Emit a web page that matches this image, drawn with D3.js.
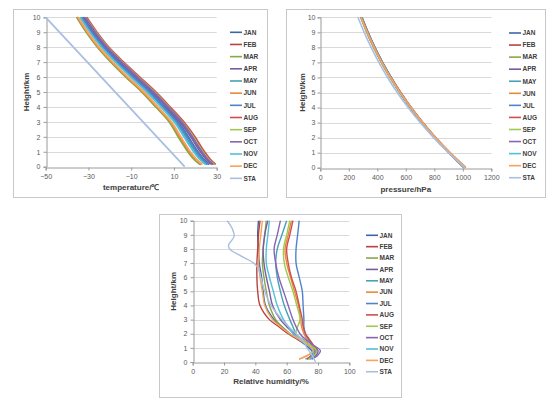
<!DOCTYPE html>
<html lang="en">
<head>
<meta charset="UTF-8">
<title>Monthly profiles</title>
<script src="https://d3js.org/d3.v7.min.js"></script>
<style>
  body { margin: 0; background: #fff; }
  svg { display: block; font-family: "Liberation Sans", Arial, sans-serif; }
</style>
</head>
<body>
<svg id="chart" width="554" height="399"></svg>
<script>
// ---- data ----
var months = ["JAN","FEB","MAR","APR","MAY","JUN","JUL","AUG","SEP","OCT","NOV","DEC","STA"];
var colors = ["#3a67a8","#b8433f","#86aa48","#7a5c9e","#45a0b8","#e8893b","#4f84c9","#d04e4b","#9dcb52","#8565b4","#52c0dc","#f9a25e","#a9bfe2"];

// temperature (°C) vs height (km)
var tempHeights = [0.15, 0.5, 1, 1.5, 2, 3, 4, 5, 6, 7, 8, 9, 10];
var tempJAN = [26.6, 23.9, 21.2, 18.9, 16.7, 11.9, 5.5, -1.1, -8.6, -15.9, -22.6, -28.0, -32.7];
var tempFEB = [22.6, 19.7, 16.9, 14.6, 12.4, 8.1, 1.8, -4.7, -12.2, -19.2, -25.5, -30.8, -35.3];
var tempMAR = [22.2, 19.3, 16.5, 14.2, 12.0, 7.8, 1.5, -5.0, -12.5, -19.5, -25.8, -31.0, -35.5];
var tempAPR = [27.7, 25.1, 22.4, 20.1, 17.9, 12.9, 6.5, -0.1, -7.6, -15.0, -21.8, -27.3, -32.0];
var tempMAY = [25.5, 22.8, 20.0, 17.7, 15.5, 10.9, 4.5, -2.1, -9.6, -16.8, -23.4, -28.8, -33.4];
var tempJUN = [22.9, 20.1, 17.3, 15.0, 12.8, 8.5, 2.2, -4.4, -11.9, -18.9, -25.3, -30.5, -35.0];
var tempJUL = [26.2, 23.5, 20.8, 18.5, 16.3, 11.5, 5.2, -1.4, -8.9, -16.2, -22.9, -28.3, -32.9];
var tempAUG = [29.5, 27.0, 24.3, 22.0, 19.8, 14.6, 8.2, 1.5, -6.0, -13.5, -20.5, -26.0, -30.8];
var tempSEP = [28.8, 26.2, 23.5, 21.2, 19.0, 13.9, 7.5, 0.9, -6.7, -14.1, -21.0, -26.5, -31.3];
var tempOCT = [28.4, 25.8, 23.1, 20.8, 18.6, 13.6, 7.2, 0.5, -7.0, -14.4, -21.3, -26.8, -31.5];
var tempNOV = [24.8, 22.0, 19.2, 16.9, 14.7, 10.2, 3.9, -2.7, -10.2, -17.4, -23.9, -29.3, -33.9];
var tempDEC = [23.3, 20.5, 17.7, 15.4, 13.2, 8.8, 2.5, -4.0, -11.5, -18.6, -25.0, -30.3, -34.8];
var tempStaHeights = [0, 10];
var tempSTA = [15, -50];

// pressure (hPa) vs height (km)
var presHeights = [0, 1, 2, 3, 4, 5, 6, 7, 8, 9, 10];
var presJAN = [1012, 903, 804, 715, 634, 561, 494, 434, 380, 332, 289];
var presFEB = [1016, 905, 805, 714, 632, 558, 491, 430, 376, 328, 285];
var presMAR = [1018, 906, 805, 714, 631, 557, 489, 428, 374, 326, 283];
var presAPR = [1014, 905, 806, 716, 635, 561, 494, 434, 380, 332, 289];
var presMAY = [1010, 902, 804, 715, 634, 561, 495, 435, 381, 333, 291];
var presJUN = [1022, 911, 811, 721, 639, 565, 498, 437, 383, 335, 292];
var presJUL = [1008, 901, 803, 715, 635, 562, 496, 436, 383, 335, 292];
var presAUG = [1009, 901, 803, 715, 635, 562, 496, 436, 382, 334, 291];
var presSEP = [1011, 903, 805, 716, 635, 562, 495, 435, 381, 333, 290];
var presOCT = [1015, 906, 807, 717, 636, 562, 495, 434, 380, 332, 288];
var presNOV = [1017, 906, 806, 716, 634, 559, 492, 432, 378, 329, 286];
var presDEC = [1020, 909, 808, 717, 635, 560, 492, 431, 377, 329, 285];
var presSTA = [1013, 899, 795, 701, 616, 540, 472, 411, 357, 308, 264];

// relative humidity (%) vs height (km)
var rhHeights = [0.2, 0.5, 0.8, 1.2, 1.6, 2, 2.5, 3, 4, 5, 6, 7, 8, 9, 10];
var rhJAN = [76, 77, 76, 72, 67, 62, 57, 52, 46.5, 45, 44, 42.5, 42, 41.5, 42];
var rhFEB = [73, 76, 77, 73, 67, 61, 55, 49, 43, 41.5, 41, 41, 41.5, 42, 43];
var rhMAR = [74, 77, 78, 73, 68, 62, 57, 53, 49, 47, 45.5, 44.5, 45, 46, 47];
var rhAPR = [75, 79, 80, 75, 70, 65, 60, 56, 51, 49, 47, 45.5, 45, 46, 48];
var rhMAY = [72, 77, 79, 75, 70, 66, 64, 62, 58.5, 56, 54, 53, 54, 57, 60];
var rhJUN = [68, 74, 78, 76, 73, 71, 69.5, 69, 67.5, 65, 62.5, 60, 59, 61, 63];
var rhJUL = [74, 76, 78, 76, 74, 72, 71, 71, 70.5, 70, 68, 66, 66, 67, 68];
var rhAUG = [73, 77, 79, 77, 74.5, 72, 70.5, 70, 68, 66, 63, 61, 60, 62, 64];
var rhSEP = [74, 78, 79, 75, 70, 66, 67, 68.5, 66.5, 64, 61, 58.5, 58, 60, 62];
var rhOCT = [76, 80, 81.5, 77, 72, 68.5, 66, 64, 61, 58, 55, 53, 52, 54, 56];
var rhNOV = [75, 77, 77, 73, 68, 64, 61, 58, 54, 51.5, 49, 47, 47, 48, 49];
var rhDEC = [68, 74, 77, 74, 68, 62, 56, 51, 46, 44.5, 43, 42, 42.5, 43.5, 44.5];
var rhStaHeights = [0, 0.5, 1, 1.5, 2, 3, 4, 5, 6, 6.6, 7, 7.5, 8, 8.3, 8.9, 9.5, 10];
var rhSTA = [78.5, 76, 73, 70.5, 66, 57, 50, 46, 43.5, 42, 39, 31, 23.5, 23, 26.5, 25, 22];

var tempSeries = [tempJAN,tempFEB,tempMAR,tempAPR,tempMAY,tempJUN,tempJUL,tempAUG,tempSEP,tempOCT,tempNOV,tempDEC];
var presSeries = [presJAN,presFEB,presMAR,presAPR,presMAY,presJUN,presJUL,presAUG,presSEP,presOCT,presNOV,presDEC];
var rhSeries = [rhJAN,rhFEB,rhMAR,rhAPR,rhMAY,rhJUN,rhJUL,rhAUG,rhSEP,rhOCT,rhNOV,rhDEC];

var heightTicks = [0,1,2,3,4,5,6,7,8,9,10];

// ---- drawing ----
var svg = d3.select("#chart");

function buildLines(series, heights, staVals, staHeights) {
  var out = series.map(function (vals, i) {
    return { name: months[i], color: colors[i], pts: vals.map(function (v, j) { return [v, heights[j]]; }) };
  });
  out.push({ name: "STA", color: colors[12], pts: staVals.map(function (v, j) { return [v, staHeights[j]]; }) });
  return out;
}

function drawPanel(cfg) {
  var g = svg.append("g");

  g.append("rect")
    .attr("x", cfg.box[0] + 0.5).attr("y", cfg.box[1] + 0.5)
    .attr("width", cfg.box[2]).attr("height", cfg.box[3])
    .attr("fill", "#fff").attr("stroke", "#c8c8c8");

  var x = d3.scaleLinear().domain(cfg.xDomain).range([cfg.plot[0], cfg.plot[1]]);
  var y = d3.scaleLinear().domain([0, 10]).range([cfg.plot[3], cfg.plot[2]]);

  // gridlines
  g.append("g").selectAll("line").data(heightTicks.slice(1)).join("line")
    .attr("x1", cfg.plot[0]).attr("x2", cfg.plot[1])
    .attr("y1", function (d) { return Math.round(y(d)) + 0.5; })
    .attr("y2", function (d) { return Math.round(y(d)) + 0.5; })
    .attr("stroke", "#d9d9d9");

  // axes
  var yAxis = g.append("g")
    .attr("transform", "translate(" + (Math.round(cfg.plot[0]) + 0.5) + ",0)")
    .call(d3.axisLeft(y).tickValues(heightTicks).tickSize(3).tickPadding(cfg.yPad).tickFormat(d3.format("d")));
  var xAxis = g.append("g")
    .attr("transform", "translate(0," + (Math.round(cfg.plot[3]) + 0.5) + ")")
    .call(d3.axisBottom(x).tickValues(cfg.xTicks).tickSize(3).tickPadding(4).tickFormat(d3.format("d")));
  [yAxis, xAxis].forEach(function (a) {
    a.select(".domain").attr("stroke", "#9a9a9a");
    a.selectAll(".tick line").attr("stroke", "#9a9a9a");
    a.selectAll(".tick text").attr("fill", "#595959").attr("font-size", 7);
  });

  // titles
  g.append("text")
    .attr("transform", "translate(" + cfg.yTitleX + "," + ((cfg.plot[2] + cfg.plot[3]) / 2) + ") rotate(-90)")
    .attr("text-anchor", "middle").attr("dy", "0.35em")
    .attr("font-size", 8).attr("font-weight", "bold").attr("fill", "#404040")
    .text("Height/km");
  g.append("text")
    .attr("x", (cfg.plot[0] + cfg.plot[1]) / 2).attr("y", cfg.xTitleY)
    .attr("text-anchor", "middle").attr("dy", "0.35em")
    .attr("font-size", 8).attr("font-weight", "bold").attr("fill", "#404040")
    .text(cfg.xTitle);

  // series
  var line = d3.line()
    .x(function (d) { return x(d[0]); })
    .y(function (d) { return y(d[1]); })
    .curve(d3.curveCatmullRom.alpha(0.5));

  g.append("g").selectAll("path").data(cfg.lines).join("path")
    .attr("d", function (d) { return line(d.pts); })
    .attr("fill", "none")
    .attr("stroke", function (d) { return d.color; })
    .attr("stroke-width", cfg.lineWidth);

  // legend
  var leg = g.append("g").selectAll("g").data(cfg.lines).join("g")
    .attr("transform", function (d, i) { return "translate(" + cfg.legX + "," + (cfg.legY + i * cfg.legStep) + ")"; });
  leg.append("line")
    .attr("x1", 0).attr("x2", 12)
    .attr("stroke", function (d) { return d.color; })
    .attr("stroke-width", 1.6);
  leg.append("text")
    .attr("x", 13.5).attr("dy", "0.35em")
    .attr("font-size", 6.5).attr("font-weight", "bold").attr("fill", "#404040")
    .text(function (d) { return d.name; });
}

drawPanel({
  box: [13, 9, 254, 188],
  plot: [45.7, 216.7, 17.3, 166.7],
  xDomain: [-50, 30], xTicks: [-50, -30, -10, 10, 30],
  xTitle: "temperature/\u2103", xTitleY: 187, yTitleX: 26.5, yPad: 3,
  lines: buildLines(tempSeries, tempHeights, tempSTA, tempStaHeights),
  lineWidth: 1.8,
  legX: 230, legY: 32.3, legStep: 12.17
});

drawPanel({
  box: [286, 9, 259, 188],
  plot: [320.3, 491.3, 17.3, 167.7],
  xDomain: [0, 1200], xTicks: [0, 200, 400, 600, 800, 1000, 1200],
  xTitle: "pressure/hPa", xTitleY: 189, yTitleX: 302, yPad: 2,
  lines: buildLines(presSeries, presHeights, presSTA, presHeights),
  lineWidth: 1.6,
  legX: 509, legY: 33, legStep: 12.06
});

drawPanel({
  box: [159, 214, 242, 183],
  plot: [192.7, 349.3, 220.7, 362],
  xDomain: [0, 100], xTicks: [0, 20, 40, 60, 80, 100],
  xTitle: "Relative humidity/%", xTitleY: 380.7, yTitleX: 173, yPad: 3,
  lines: buildLines(rhSeries, rhHeights, rhSTA, rhStaHeights),
  lineWidth: 1.4,
  legX: 366, legY: 235.3, legStep: 11.37
});
</script>
</body>
</html>
